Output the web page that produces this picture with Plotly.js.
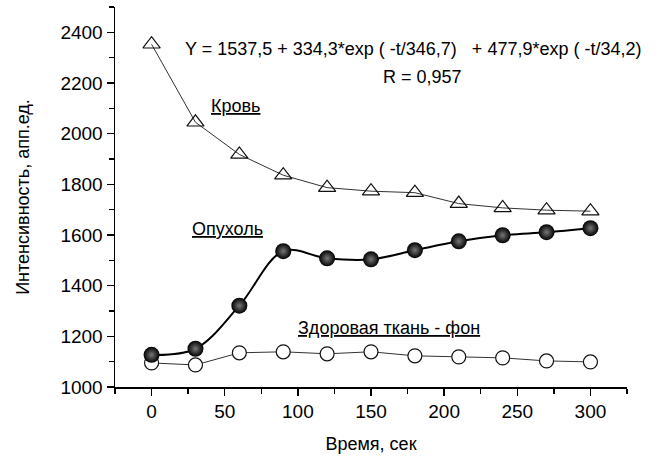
<!DOCTYPE html>
<html><head><meta charset="utf-8">
<script src="https://cdn.plot.ly/plotly-3.0.1.min.js"></script>
<style>html,body{margin:0;padding:0;background:#fff}</style>
</head><body>
<div id="chart" style="width:664px;height:459px"></div>
<script>
const time = [0, 30, 60, 90, 120, 150, 180, 210, 240, 270, 300];
const blood = [2353, 2045, 1918, 1836, 1787, 1773, 1767, 1724, 1707, 1698, 1694];
const tumor = [1127, 1151, 1321, 1536, 1508, 1504, 1540, 1575, 1599, 1611, 1627];
const healthy = [1095, 1087, 1135, 1139, 1131, 1139, 1123, 1119, 1115, 1103, 1099];
const xTicks = [0, 50, 100, 150, 200, 250, 300];
const yTicks = [1000, 1200, 1400, 1600, 1800, 2000, 2200, 2400];
const labels = {
  eq: 'Y = 1537,5 + 334,3*exp ( -t/346,7)   + 477,9*exp ( -t/34,2)',
  r: 'R = 0,957',
  blood: 'Кровь',
  tumor: 'Опухоль',
  healthy: 'Здоровая ткань - фон',
  xTitle: 'Время, сек',
  yTitle: 'Интенсивность, апп.ед.'
};
const F = 'Liberation Sans, Arial, sans-serif';
const traces = [
  {x: time, y: blood, mode: 'lines+markers', line: {color: '#333', width: 1},
   marker: {symbol: 'triangle-up-open', size: 15, color: '#111', line: {width: 1.2}}},
  {x: time, y: healthy, mode: 'lines+markers', line: {color: '#333', width: 1},
   marker: {symbol: 'circle', size: 14, color: '#fff', line: {color: '#111', width: 1.2}}},
  {x: time, y: tumor, mode: 'lines+markers', line: {color: '#000', width: 2, shape: 'spline', smoothing: 1},
   marker: {symbol: 'circle', size: 16, color: '#000', gradient: {type: 'radial', color: '#777'}, line: {width: 0}}}
];
const ann = (text, x, y, under) => ({text, x, y, xref: 'x', yref: 'y', showarrow: false,
  font: Object.assign({family: F, size: 18, color: '#000'}, under ? {lineposition: 'under'} : {})});
const layout = {
  width: 664, height: 459,
  margin: {l: 115, r: 37, t: 7, b: 72},
  showlegend: false,
  paper_bgcolor: '#fff', plot_bgcolor: '#fff',
  xaxis: {range: [-25, 325], tickvals: xTicks, ticktext: xTicks.map(String),
    ticks: 'outside', ticklen: 7, tickwidth: 1.5, tickcolor: '#000',
    minor: {dtick: 25, tick0: -25, ticks: 'outside', ticklen: 5, tickwidth: 1.5, tickcolor: '#000'},
    showline: true, linecolor: '#000', linewidth: 1.5, showgrid: false, zeroline: false,
    tickfont: {family: F, size: 19, color: '#000'},
    title: {text: labels.xTitle, font: {family: F, size: 18, color: '#000'}, standoff: 16}},
  yaxis: {range: [1000, 2500], tickvals: yTicks, ticktext: yTicks.map(String),
    ticks: 'outside', ticklen: 7, tickwidth: 1.5, tickcolor: '#000',
    minor: {dtick: 100, ticks: 'outside', ticklen: 5, tickwidth: 1.5, tickcolor: '#000'},
    showline: true, linecolor: '#000', linewidth: 1.5, showgrid: false, zeroline: false,
    tickfont: {family: F, size: 19, color: '#000'},
    title: {text: labels.yTitle, font: {family: F, size: 18, color: '#000'}, standoff: 26}},
  annotations: [
    ann(labels.eq, 178.6, 2334),
    ann(labels.r, 184.9, 2222),
    ann(labels.blood, 57.6, 2110, true),
    ann(labels.tumor, 52, 1624, true),
    ann(labels.healthy, 162, 1232, true)
  ]
};
Plotly.newPlot('chart', traces, layout, {displayModeBar: false, staticPlot: true});
</script>
</body></html>
